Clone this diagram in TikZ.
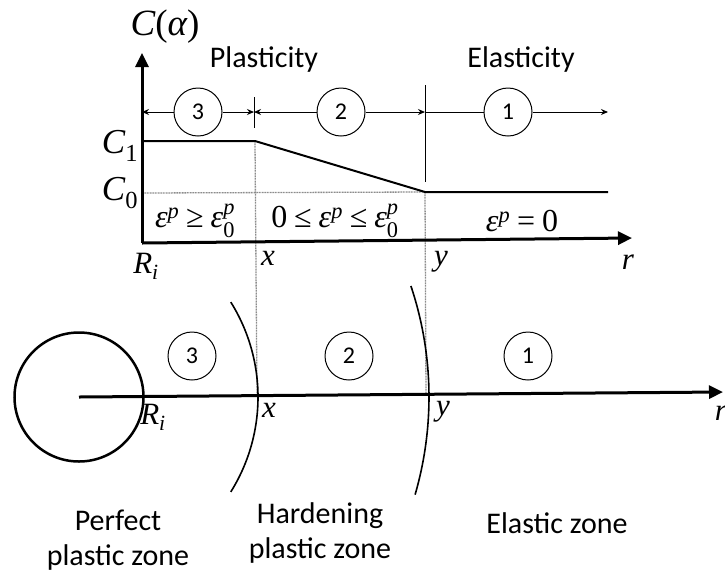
\documentclass[tikz,border=0pt]{standalone}
\usepackage{amsmath}
\usepackage{fontspec}
\setmainfont{Carlito}
\newfontfamily\tms{Liberation Serif}
\newcommand\ti[1]{\text{\tms\itshape #1}}
\newcommand\tu[1]{\text{\tms #1}}
\usetikzlibrary{arrows.meta}
\begin{document}
\begin{tikzpicture}[x=1pt,y=-1pt,
  txt/.style={font=\fontsize{30}{35}\selectfont, inner sep=0pt},
  mth/.style={font=\fontsize{31}{33}\selectfont, inner sep=0pt},
  big/.style={font=\fontsize{35}{37}\selectfont, inner sep=0pt},
  eps/.style={font=\fontsize{32}{34}\selectfont, inner sep=0pt},
  num/.style={circle, draw, line width=1pt, minimum size=48pt, inner sep=0pt, font=\fontsize{24}{24}\selectfont},
  axis/.style={line width=3pt, -{Triangle[length=14pt,width=13pt]}},
  dim/.style={line width=1pt},
  dimarr/.style={-{Stealth[length=7pt,width=6pt]}},
  guide/.style={black!45, line width=1.3pt, dash pattern=on 1pt off 0.6pt},
  curve/.style={line width=2pt},
  zoneline/.style={line width=1.6pt},
]
\useasboundingbox (0,0) rectangle (725,574);

% ---------- upper graph ----------
\node[font=\fontsize{37}{40}\selectfont, inner sep=0pt] (ca) at (165,27) {$\ti{C}\tu{(}\ti{α}\tu{)}$};
\node[txt, anchor=base] (plast) at (264,67) {Plasticity};
\node[txt, anchor=base] (elast) at (521,67) {Elasticity};

\coordinate (O) at (142,243);
\coordinate (Ytop) at (142,53);
\coordinate (Xend) at (632,238);

% guide lines
\coordinate (c1a) at (142,141);
\coordinate (c1b) at (255,141);
\coordinate (c0a) at (425,192);
\coordinate (c0b) at (608,192);
\coordinate (g0l) at (142,193);
\coordinate (gxb) at (257,396);
\coordinate (gyb) at (426,395);
\draw[guide] (g0l) -- (c0a);
\draw[guide] (c1b) -- (gxb);
\draw[guide] (c0a) -- (gyb);

% C curve
\draw[curve] (c1a) -- (c1b) -- (c0a) -- (c0b);

% axes
\draw[axis] (O) -- (Ytop);
\draw[axis] (O) -- (Xend);

% zone dimension row
\node[num] (t3) at (198,112) {3};
\node[num] (t2) at (341,112) {2};
\node[num] (t1) at (508,112) {1};
\coordinate (d0) at (142,112);
\coordinate (d1) at (254,112);
\coordinate (d2) at (425,112);
\coordinate (d3) at (608,112);
\coordinate (k1a) at (254,97);
\coordinate (k1b) at (254,128);
\coordinate (k2a) at (425,85);
\coordinate (k2b) at (425,182);
\draw[dim] (k1a) -- (k1b);
\draw[dim] (k2a) -- (k2b);
\draw[dim, dimarr] (t3) -- (d0);
\draw[dim, dimarr] (t3) -- (d1);
\draw[dim, dimarr] (t2) -- (d1);
\draw[dim, dimarr] (t2) -- (d2);
\draw[dim] (t1) -- (d2);
\draw[dim, dimarr] (t1) -- (d3);

% labels
\node[big] (c1) at (120,146) {$\ti{C}_{\tu{1}}$};
\node[big] (c0) at (120,193) {$\ti{C}_{\tu{0}}$};
\node[eps] (e3) at (195,221) {$\ti{ε}^{\ti{p}} \mathrel{\tu{≥}} \ti{ε}_{\tu{0}}^{\ti{p}}$};
\node[eps] (e2) at (335,221) {$\tu{0} \mathrel{\tu{≤}} \ti{ε}^{\ti{p}} \mathrel{\tu{≤}} \ti{ε}_{\tu{0}}^{\ti{p}}$};
\node[eps] (e1) at (522,221) {$\ti{ε}^{\ti{p}} \mathrel{\tu{=}} \tu{0}$};
\node[mth] (ri) at (146,266) {$\ti{R}_{\ti{i}}$};
\node[mth] (xl) at (268,258) {$\ti{x}$};
\node[mth] (yl) at (441,262) {$\ti{y}$};
\node[mth] (rl) at (628,262) {$\ti{r}$};

% ---------- lower sketch ----------
\node[circle, draw, line width=2.5pt, minimum size=129pt, inner sep=0pt] (hole) at (79,397) {};
\coordinate (rend) at (723,392);
\draw[axis] (hole.center) -- (rend);

\draw[zoneline] (hole.center) ++(-32:179) arc[start angle=-32, end angle=32, radius=179];
\draw[zoneline] (hole.center) ++(-18.5:350) arc[start angle=-18.5, end angle=16.2, radius=350];

\node[num] (b3) at (192,356) {3};
\node[num] (b2) at (349,356) {2};
\node[num] (b1) at (528,356) {1};

\node[mth] (ri2) at (153,417) {$\ti{R}_{\ti{i}}$};
\node[mth] (x2) at (269,410) {$\ti{x}$};
\node[mth] (y2) at (443,412) {$\ti{y}$};
\node[mth] (r2) at (721,413) {$\ti{r}$};

\node[txt, align=center, anchor=base] (pz) at (118,565) {Perfect\\plastic zone};
\node[txt, align=center, anchor=base] (hz) at (320,558) {Hardening\\plastic zone};
\node[txt, anchor=base] (ez) at (557,533) {Elastic zone};
\end{tikzpicture}
\end{document}
